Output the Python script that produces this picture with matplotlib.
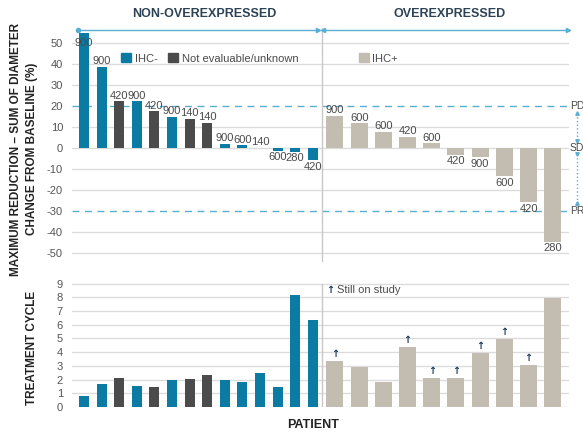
import matplotlib.pyplot as plt
import numpy as np
from matplotlib.patches import Patch

plt.rcParams['font.family'] = ['Liberation Sans Narrow', 'Liberation Sans', 'DejaVu Sans']
plt.rcParams['axes.unicode_minus'] = False

# --- data ---
non_dose = [900, 900, 420, 900, 420, 900, 140, 140, 900, 600, 140, 600, 280, 420]
non_change = [54.6, 38.5, 22, 22, 17.3, 14.6, 13.7, 11.7, 1.8, 1, 0, -1.5, -2, -6]
non_group = ['IHC-', 'IHC-', 'NE', 'IHC-', 'NE', 'IHC-', 'NE', 'NE',
             'IHC-', 'IHC-', 'IHC-', 'IHC-', 'IHC-', 'IHC-']
non_cycles = [0.78, 1.7, 2.1, 1.53, 1.46, 1.95, 2.07, 2.36, 1.95, 1.82, 2.5, 1.46, 8.2, 6.37]

over_dose = [900, 600, 600, 420, 600, 420, 900, 600, 420, 280]
over_change = [15, 11.5, 7.4, 5, 2, -3.5, -4.7, -13.7, -26, -45]
over_cycles = [3.36, 2.92, 1.82, 4.38, 2.14, 2.14, 3.94, 4.94, 3.09, 7.96]
over_ongoing = [True, False, False, True, True, True, True, True, True, False]

BLUE = '#0b7ba3'
DARK = '#4b4b4b'
BEIGE = '#c3bcb1'
LINE_BLUE = '#5aaed2'
GRID = '#dcdcdc'
TXT = '#4a4a4a'
colors = {'IHC-': BLUE, 'NE': DARK}

x_non = np.arange(len(non_change))
x_over = 14.26 + 1.375 * np.arange(len(over_change))
non_colors = [colors[g] for g in non_group]

fig = plt.figure(figsize=(5.83, 4.37), dpi=100)
ax = fig.add_axes([0.1235, 0.4005, 0.8525, 0.5355])
ax2 = fig.add_axes([0.1235, 0.0686, 0.8525, 0.2886])

for a in (ax, ax2):
    a.set_xlim(-0.68, 27.56)
    for s in a.spines.values():
        s.set_visible(False)
    a.set_xticks([])
    a.tick_params(axis='y', length=0, pad=6.5, labelsize=8, labelcolor='#555555')
    a.set_axisbelow(True)

# ---------- top panel: change from baseline ----------
ax.set_ylim(-54.5, 57)
ax.set_yticks(np.arange(-50, 51, 10))
for yv in np.arange(-50, 51, 10):
    if yv in (20, -30):
        continue
    ax.axhline(yv, color=GRID, lw=1, zorder=0)
for yv in (20, -30):
    ax.axhline(yv, color=LINE_BLUE, lw=1, dashes=(5, 4), zorder=0)
ax.axvline(13.5, color='#c8c8c8', lw=1, zorder=0)

ax.bar(x_non, non_change, width=0.57, color=non_colors, zorder=2)
ax.bar(x_over, over_change, width=0.97, color=BEIGE, zorder=2)

for xs, vals, doses in ((x_non, non_change, non_dose), (x_over, over_change, over_dose)):
    for xv, v, d in zip(xs, vals, doses):
        if v >= 0:
            ax.annotate(str(d), (xv, min(v, 47)), xytext=(0, 0.5), textcoords='offset points',
                        ha='center', va='bottom', fontsize=8, color=TXT, zorder=3)
        else:
            ax.annotate(str(d), (xv, v), xytext=(0, -1), textcoords='offset points',
                        ha='center', va='top', fontsize=8, color=TXT, zorder=3)

# group arrows
ax.plot([-0.34, 13.3], [56, 56], color=LINE_BLUE, lw=1, clip_on=False)
ax.plot([-0.34], [56], 'o', color=LINE_BLUE, ms=3, clip_on=False)
ax.plot([13.3], [56], '>', color=LINE_BLUE, ms=3, clip_on=False)
ax.plot([13.58, 27.5], [56, 56], color=LINE_BLUE, lw=1, clip_on=False)
ax.plot([13.58], [56], '<', color=LINE_BLUE, ms=3, clip_on=False)
ax.plot([27.5], [56], '>', color=LINE_BLUE, ms=3, clip_on=False)

# PD / SD / PR markers on the right
for lab, yv in (('PD', 20), ('SD', 0), ('PR', -30)):
    ax.text(27.6, yv, lab, ha='left', va='center', fontsize=7.5, color=TXT, clip_on=False)
ax.plot([28.0, 28.0], [16.5, 3], color=LINE_BLUE, lw=1, ls=':', clip_on=False)
ax.plot([28.0, 28.0], [-3, -26.5], color=LINE_BLUE, lw=1, ls=':', clip_on=False)
ax.plot([28.0, 28.0], [16.5, -26.5], '^', color=LINE_BLUE, ms=2.5, clip_on=False)
ax.plot([28.0, 28.0], [3, -3], 'v', color=LINE_BLUE, ms=2.5, clip_on=False)

leg1 = ax.legend(handles=[Patch(color=BLUE, label='IHC-'),
                          Patch(color=DARK, label='Not evaluable/unknown')],
                 loc='center left', bbox_to_anchor=(0.09, 0.87), ncol=2, frameon=False,
                 fontsize=8, handlelength=0.9, handleheight=0.9, handletextpad=0.3,
                 columnspacing=1.0, labelcolor=TXT, borderaxespad=0)
ax.add_artist(leg1)
ax.legend(handles=[Patch(color=BEIGE, label='IHC+')], loc='center left',
          bbox_to_anchor=(0.568, 0.87), frameon=False, fontsize=8, handlelength=0.9,
          handleheight=0.9, handletextpad=0.3, labelcolor=TXT, borderaxespad=0)

# ---------- bottom panel: treatment cycles ----------
ax2.set_ylim(0, 9.2)
ax2.set_yticks(np.arange(0, 10, 1))
for yv in range(0, 10):
    ax2.axhline(yv, color=GRID, lw=1, zorder=0)
ax2.axvline(13.5, ymin=0, ymax=9 / 9.2, color='#c8c8c8', lw=1, zorder=0)
ax2.bar(x_non, non_cycles, width=0.57, color=non_colors, zorder=2)
ax2.bar(x_over, over_cycles, width=0.97, color=BEIGE, zorder=2)
for xv, v, on in zip(x_over, over_cycles, over_ongoing):
    if on:
        ax2.annotate('↑', (xv, v), xytext=(0, 1.5), textcoords='offset points', ha='center',
                     va='bottom', fontsize=7, fontweight='bold', color='#1c3a5a',
                     family=['DejaVu Sans'])
ax2.text(14.0, 8.55, '↑', ha='center', va='center', fontsize=7, fontweight='bold',
         color='#1c3a5a', family=['DejaVu Sans'])
ax2.text(14.4, 8.55, 'Still on study', ha='left', va='center', fontsize=8, color=TXT)

# ---------- titles and axis labels ----------
fig.text(0.350, 0.967, 'NON-OVEREXPRESSED', ha='center', va='center', fontsize=9,
         fontweight='bold', color='#2d4254', family=['Liberation Sans', 'DejaVu Sans'])
fig.text(0.772, 0.967, 'OVEREXPRESSED', ha='center', va='center', fontsize=9,
         fontweight='bold', color='#2d4254', family=['Liberation Sans', 'DejaVu Sans'])
fig.text(0.041, 0.659, 'MAXIMUM REDUCTION – SUM OF DIAMETER\nCHANGE FROM BASELINE (%)',
         rotation=90, ha='center', va='center', fontsize=8.5, fontweight='bold',
         color='#222222', linespacing=1.45, multialignment='center')
fig.text(0.055, 0.204, 'TREATMENT CYCLE', rotation=90, ha='center', va='center',
         fontsize=8.5, fontweight='bold', color='#222222')
fig.text(0.537, 0.027, 'PATIENT', ha='center', va='center', fontsize=9,
         fontweight='bold', color='#222222')

fig.savefig('out.png', dpi=100)
